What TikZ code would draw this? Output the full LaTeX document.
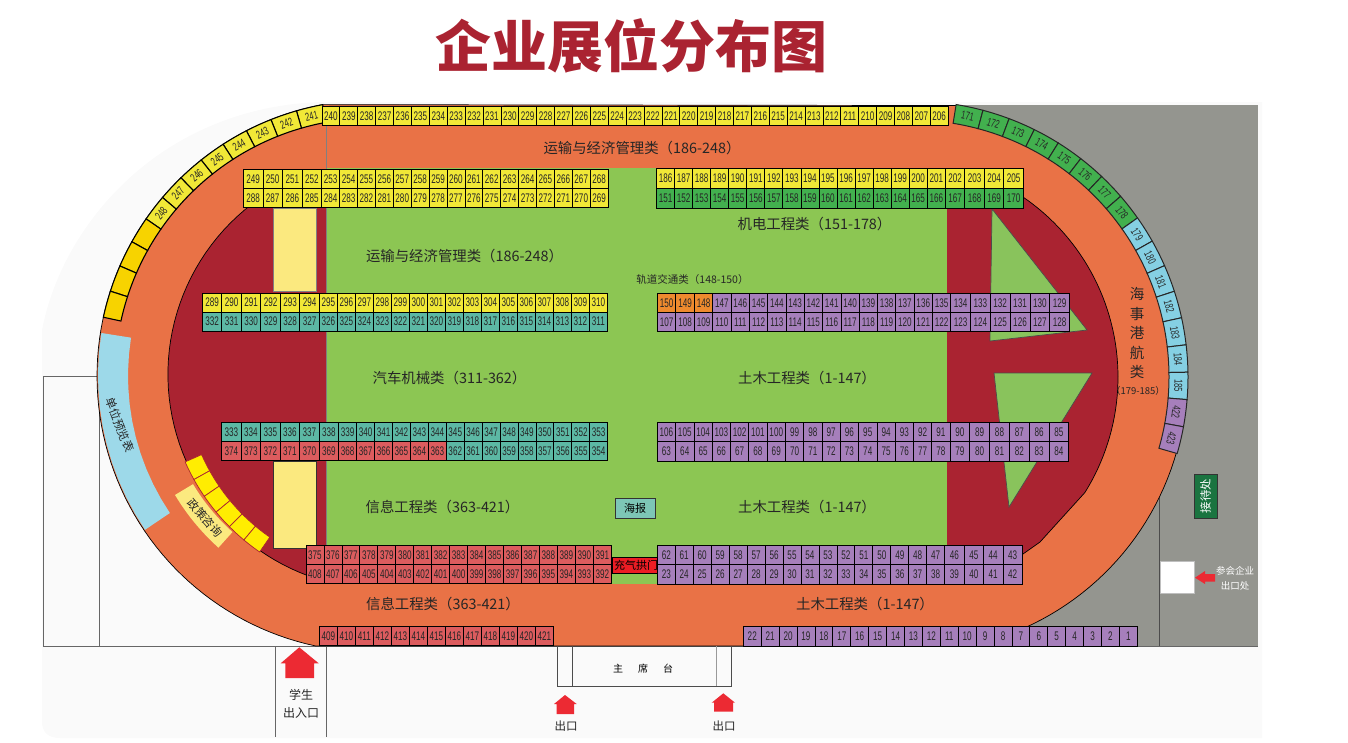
\documentclass[tikz,border=0pt]{standalone}
\usepackage{fontspec}
\usetikzlibrary{positioning}
\newfontfamily\cjk{Noto Sans CJK SC}
\newfontfamily\numfont[FakeStretch=0.65]{Liberation Sans}

\definecolor{trackc}{HTML}{E97246}
\definecolor{fieldc}{HTML}{8CC653}
\definecolor{trianglec}{HTML}{89C35C}
\definecolor{maroonc}{HTML}{AA2331}
\definecolor{greyc}{HTML}{94958F}
\definecolor{yellowc}{HTML}{F1E837}
\definecolor{goldc}{HTML}{F7D300}
\definecolor{tealc}{HTML}{5CB8A4}
\definecolor{redc}{HTML}{DC5C5E}
\definecolor{purplec}{HTML}{A67FBB}
\definecolor{greenc}{HTML}{42B04E}
\definecolor{orangec}{HTML}{EE8A2E}
\definecolor{bluec}{HTML}{85D0E3}
\definecolor{exitc}{HTML}{EC2A33}
\definecolor{paleyc}{HTML}{FBE97F}
\definecolor{archc}{HTML}{ED1C24}
\definecolor{receptc}{HTML}{1A7440}

\tikzset{
  seat/.style={draw=black, line width=.8pt, inner sep=0pt, font=\numfont\fontsize{12.5}{13}\selectfont, text=black!85},
  yseat/.style={seat, fill=yellowc},
  tseat/.style={seat, fill=tealc},
  rseat/.style={seat, fill=redc},
  pseat/.style={seat, fill=purplec},
  gseat/.style={seat, fill=greenc},
  oseat/.style={seat, fill=orangec},
  curvednum/.style={inner sep=0pt, font=\numfont\fontsize{11.5}{12}\selectfont, text=black!85},
  catlabel/.style={inner sep=0pt, font=\cjk\fontsize{14.4}{16}\selectfont, text=black!85},
  smalllabel/.style={inner sep=0pt, font=\cjk\fontsize{11.5}{14}\selectfont, text=black!85},
  outline/.style={draw=black, line width=.7pt},
  wall/.style={draw=black!60, line width=1pt},
  exitarrow/.style={fill=exitc}
}

% one straight row of stands
\newcommand{\seatrow}[6]{
  \foreach \n [count=\i from 0] in {#1}{
    \node[#6, minimum width=#3pt, minimum height=#5pt] (s\n) at ({#2+(\i+.5)*#3},{#4+.5*#5}) {\n};
  }
}
% ring sector: cx, cy, r1, r2, a1, a2, style
\newcommand{\ringsector}[7]{
  \path[#7] plot[variable=\t, domain=#5:#6, samples=12] ({#1+#4*cos(\t)},{#2+#4*sin(\t)})
    -- plot[variable=\t, domain=#6:#5, samples=12] ({#1+#3*cos(\t)},{#2+#3*sin(\t)}) -- cycle;
}

\begin{document}
\begin{tikzpicture}[x=1pt, y=-1pt]
\useasboundingbox (0,0) rectangle (1348,742);

% ground
\fill[black!2] (42,722) -- (42,330) .. controls (62,225) and (160,108) .. (320,102) -- (1262,102) -- (1262,738) -- (60,738) .. controls (48,738) and (42,732) .. (42,722) -- cycle;
\fill[greyc] (900,105) rectangle (1258,646);

% buildings around the track
\draw[wall] (99,646) -- (99,376.5) -- (43.3,376.5) -- (43.3,646) -- (1258,646);
\draw[wall] (275.7,646) -- (275.7,737);
\draw[wall] (326,646) -- (326,737);
\draw[draw=black!70, line width=1pt] (1159,480) -- (1159,646);

% track
\path[fill=trackc, outline] plot[variable=\t, domain=102:259.5, samples=80] ({373+276*cos(\t)},{376+276*sin(\t)})
  -- plot[variable=\t, domain=279.2:438, samples=80] ({912+275*cos(\t)},{377+275*sin(\t)}) -- cycle;

% infield
\path[fill=maroonc, outline] plot[variable=\t, domain=110:235, samples=50] ({382.6+214.7*cos(\t)},{374.4+214.7*sin(\t)})
  -- (330,200) -- (330,578) -- cycle;
\path[fill=maroonc, outline] (940,190) -- (1023,190) -- plot[variable=\t, domain=-55.7:32, samples=50] ({900+218*cos(\t)},{377+218*sin(\t)})
  -- (1040,542) -- (1023,554) -- (940,565) -- cycle;
\fill[fieldc] (326,168) rectangle (947,584);
\draw[black!50, line width=.6pt] (326,126) -- (326,546);
\path[fill=trianglec, draw=black!70, line width=.7pt] (992,209) -- (1087,330) -- (990,341) -- cycle;
\path[fill=trianglec, draw=black!70, line width=.7pt] (994,373) -- (1092,373) -- (1009,507) -- cycle;
\path[fill=paleyc, draw=black!50, line width=.6pt] (273,208) rectangle (316,291);
\path[fill=paleyc, draw=black!80, line width=.6pt] (273,461) rectangle (316,548);

% boards on the track
\ringsector{373}{376}{245}{275}{146}{189}{fill=bluec!80!white}
\node[smalllabel, rotate=-69] (preview) at (120,425) {单位预览表};
\ringsector{373}{376}{210}{231}{132}{149}{fill=paleyc}
\node[smalllabel, rotate=-49] (policy) at (205,518) {政策咨询};
\foreach \i in {0,...,5}{
  \pgfmathsetmacro{\aa}{156.1-\i*5.23}
  \pgfmathsetmacro{\ab}{\aa-5.23}
  \ringsector{382.6}{374.4}{198}{216}{\ab}{\aa}{fill=yellow!95!orange, draw=maroonc, line width=.7pt}
}

% curved stands, left
\foreach \n [count=\i from 0] in {241,...,248}{
  \pgfmathsetmacro{\aa}{259.5-\i*5.6}
  \pgfmathsetmacro{\ab}{\aa-5.6}
  \pgfmathsetmacro{\am}{\aa-2.8}
  \ringsector{373}{376}{258}{276}{\ab}{\aa}{fill=yellowc, draw=black, line width=1.1pt}
  \node[curvednum, rotate={270-\am}] (s\n) at ({373+267*cos(\am)},{376+267*sin(\am)}) {\n};
}
\foreach \i in {8,...,11}{
  \pgfmathsetmacro{\aa}{259.5-\i*5.6}
  \pgfmathsetmacro{\ab}{\aa-5.6}
  \ringsector{373}{376}{258}{276}{\ab}{\aa}{fill=goldc, draw=black, line width=1.1pt}
}

% curved stands, right
\foreach \n/\col [count=\i from 0] in {171/greenc,172/greenc,173/greenc,174/greenc,175/greenc,176/greenc,177/greenc,178/greenc,179/bluec,180/bluec,181/bluec,182/bluec,183/bluec,184/bluec,185/bluec,422/purplec,423/purplec}{
  \pgfmathsetmacro{\aa}{279.2+\i*5.7}
  \pgfmathsetmacro{\ab}{\aa+5.7}
  \pgfmathsetmacro{\am}{\aa+2.85}
  \ringsector{912}{377}{257}{276}{\aa}{\ab}{fill=\col, draw=black!85, line width=1pt}
  \node[curvednum, rotate={270-\am}] (s\n) at ({912+266.5*cos(\am)},{377+266.5*sin(\am)}) {\n};
}

% small boxes
\node[draw=black, fill=archc, minimum width=47pt, minimum height=16.5pt, inner sep=0pt, font=\cjk\fontsize{11}{12}\selectfont, text=black] (arch) at (636,565) {充气拱门\hspace{3pt}};
\node[draw=black!80, fill=tealc!80!white, minimum width=40pt, minimum height=20pt, inner sep=0pt, font=\cjk\fontsize{11}{12}\selectfont] (poster) at (635,508) {海报};

% straight stands
\seatrow{240,239,...,206}{322}{17.89}{106}{19.5}{yseat}
\seatrow{249,...,252}{243.3}{19.6}{169.5}{19}{yseat}
\seatrow{253,...,268}{321.7}{17.9}{169.5}{19}{yseat}
\seatrow{288,287,286,285}{243.3}{19.6}{188.5}{19.2}{yseat}
\seatrow{284,283,...,269}{321.7}{17.9}{188.5}{19.2}{yseat}
\seatrow{186,...,201}{656.5}{18.05}{168.3}{20}{yseat}
\seatrow{202,...,205}{945.3}{19.5}{168.3}{20}{yseat}
\seatrow{151,...,166}{656.5}{18.05}{188.3}{20.4}{gseat}
\seatrow{167,...,170}{945.3}{19.5}{188.3}{20.4}{gseat}
\seatrow{289,...,294}{202.3}{19.5}{293.3}{18.6}{yseat}
\seatrow{295,...,310}{319.3}{18}{293.3}{18.6}{yseat}
\seatrow{332,331,...,327}{202.3}{19.5}{311.9}{19}{tseat}
\seatrow{326,325,...,311}{319.3}{18}{311.9}{19}{tseat}
\seatrow{150,149,148}{657.3}{18.5}{293.3}{19}{oseat}
\seatrow{147,146,...,135}{712.8}{18.3}{293.3}{19}{pseat}
\seatrow{134,133,...,129}{950.7}{19.8}{293.3}{19}{pseat}
\seatrow{107,108,109}{657.3}{18.5}{312.3}{19.2}{pseat}
\seatrow{110,...,122}{712.8}{18.3}{312.3}{19.2}{pseat}
\seatrow{123,...,128}{950.7}{19.8}{312.3}{19.2}{pseat}
\seatrow{333,...,338}{221.7}{19.5}{422.3}{19.4}{tseat}
\seatrow{339,...,353}{338.7}{17.93}{422.3}{19.4}{tseat}
\seatrow{374,373,...,369}{221.7}{19.5}{441.7}{18.8}{rseat}
\seatrow{368,367,...,363}{338.7}{17.93}{441.7}{18.8}{rseat}
\seatrow{362,361,...,354}{446.3}{17.93}{441.7}{18.8}{tseat}
\seatrow{106,105,...,91}{657.3}{18.3}{422.3}{19.4}{pseat}
\seatrow{90,89,...,85}{950}{19.8}{422.3}{19.4}{pseat}
\seatrow{63,...,78}{657.3}{18.3}{441.7}{19.2}{pseat}
\seatrow{79,...,84}{950}{19.8}{441.7}{19.2}{pseat}
\seatrow{375,...,391}{306}{17.96}{545.3}{19}{rseat}
\seatrow{408,407,...,392}{306}{17.96}{564.3}{19}{rseat}
\seatrow{62,61,...,47}{657.3}{17.96}{545.3}{19.2}{pseat}
\seatrow{46,45,44,43}{944.7}{19.4}{545.3}{19.2}{pseat}
\seatrow{23,...,38}{657.3}{17.96}{564.5}{19.5}{pseat}
\seatrow{39,...,42}{944.7}{19.4}{564.5}{19.5}{pseat}
\seatrow{409,...,421}{319.3}{18}{626.7}{18.8}{rseat}
\seatrow{22,21,...,1}{743.3}{17.91}{626.7}{19.3}{pseat}

% labels
\node[inner sep=0pt, text=maroonc, font=\cjk\bfseries\fontsize{56}{60}\selectfont] (title) at (631,46) {企业展位分布图};
\node[catlabel] (transA) at (642,148) {运输与经济管理类（186-248）};
\node[catlabel] (transB) at (464.5,256) {运输与经济管理类（186-248）};
\node[catlabel] (mech) at (814.5,224) {机电工程类（151-178）};
\node[smalllabel, font=\cjk\fontsize{10.5}{12}\selectfont] (rail) at (692.5,280) {轨道交通类（148-150）};
\node[catlabel] (auto) at (449.5,378) {汽车机械类（311-362）};
\node[catlabel] (civilA) at (807,378) {土木工程类（1-147）};
\node[catlabel] (infoA) at (442.5,507) {信息工程类（363-421）};
\node[catlabel] (civilB) at (807,507) {土木工程类（1-147）};
\node[catlabel] (infoB) at (443,604) {信息工程类（363-421）};
\node[catlabel] (civilC) at (865,604) {土木工程类（1-147）};
\node[catlabel, align=center, font=\cjk\fontsize{14.5}{19.5}\selectfont] (marine) at (1137,333) {海\\事\\港\\航\\类};
\node[smalllabel, font=\cjk\fontsize{9.5}{11}\selectfont] (marinenum) at (1138,391) {（179-185）};

% entrances and grandstand
\fill[exitarrow] (299.3,647.3) -- (318.7,663.3) -- (314,663.3) -- (314,678) -- (285.3,678) -- (285.3,663.3) -- (280.7,663.3) -- cycle;
\node[smalllabel, align=center, font=\cjk\fontsize{12}{18}\selectfont] (student) at (301,704) {学生\\出入口};
\draw[draw=black!70, line width=.9pt] (557.7,646) -- (557.7,686) -- (731.7,686) -- (731.7,646);
\draw[draw=black!70, line width=.9pt] (572.3,646) -- (572.3,686);
\draw[draw=black!40, line width=.9pt] (716.7,646) -- (716.7,686);
\node[inner sep=0pt, font=\cjk\fontsize{10}{12}\selectfont] (stand) at (643,669) {主\hspace{15pt}席\hspace{15pt}台};
\fill[exitarrow] (565,695) -- (576.7,704) -- (574,704) -- (574,714) -- (556.7,714) -- (556.7,704) -- (554,704) -- cycle;
\node[smalllabel] (exitA) at (566,726) {出口};
\fill[exitarrow] (723.3,693.3) -- (735,702.7) -- (733,702.7) -- (733,711.7) -- (714,711.7) -- (714,702.7) -- (711.7,702.7) -- cycle;
\node[smalllabel] (exitB) at (724,726) {出口};

% east side
\node[draw=black!80, fill=receptc, text=white, minimum width=43.4pt, minimum height=22.4pt, inner sep=0pt, rotate=90, font=\cjk\fontsize{11.5}{13}\selectfont] (reception) at (1205.5,496) {接待处};
\path[fill=white, draw=black!25, line width=.8pt] (1160,561.7) rectangle (1194.3,593.3);
\fill[exitarrow] (1195,577.7) -- (1205,571) -- (1205,574) -- (1215,574) -- (1215,581.7) -- (1205,581.7) -- (1205,584) -- cycle;
\node[inner sep=0pt, text=white, align=center, font=\cjk\fontsize{9.5}{15}\selectfont] (company) at (1235,578) {参会企业\\出口处};

\end{tikzpicture}
\end{document}
